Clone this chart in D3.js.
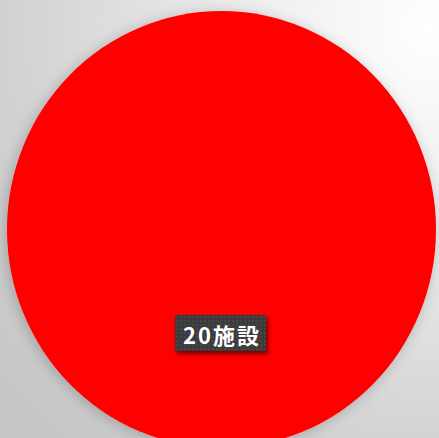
<!DOCTYPE html>
<html>
<head>
<meta charset="utf-8">
<script src="https://cdn.jsdelivr.net/npm/d3@7"></script>
<style>
  html, body { margin: 0; padding: 0; background: #fff; }
  svg { display: block; }
</style>
</head>
<body>
<svg id="chart" width="439" height="438"></svg>
<script>
// Pie data: a single category holding the whole total
const categories = ["施設"];
const values = [20];
const colors = ["#ff0000"];
const unit = "施設";

const W = 439, H = 438;
const cx = 221.5, cy = 229.5;
const rx = 214.5, ry = 218.5;

const svg = d3.select("#chart");
const defs = svg.append("defs");

// Soft grey backdrop, brightest at the upper right
const bg = defs.append("radialGradient")
  .attr("id", "bg").attr("gradientUnits", "userSpaceOnUse")
  .attr("cx", 430).attr("cy", 30).attr("r", 560);
bg.append("stop").attr("offset", "0%").attr("stop-color", "#ffffff");
bg.append("stop").attr("offset", "35%").attr("stop-color", "#ececec");
bg.append("stop").attr("offset", "75%").attr("stop-color", "#d2d2d2");
bg.append("stop").attr("offset", "100%").attr("stop-color", "#c6c6c6");

svg.append("rect").attr("width", W).attr("height", H).attr("fill", "url(#bg)");

// Halo shadow around the pie
const pieShadow = defs.append("filter").attr("id", "pieShadow")
  .attr("x", "-20%").attr("y", "-20%").attr("width", "140%").attr("height", "140%");
pieShadow.append("feDropShadow")
  .attr("dx", -2).attr("dy", 2).attr("stdDeviation", 7)
  .attr("flood-color", "#000").attr("flood-opacity", 0.22);

// Dotted texture for the label box
const pat = defs.append("pattern").attr("id", "dots")
  .attr("patternUnits", "userSpaceOnUse").attr("width", 4).attr("height", 4);
pat.append("rect").attr("width", 4).attr("height", 4).attr("fill", "#3b3b3b");
pat.append("circle").attr("cx", 1).attr("cy", 1).attr("r", 0.8).attr("fill", "#555");

const boxShadow = defs.append("filter").attr("id", "boxShadow")
  .attr("x", "-30%").attr("y", "-30%").attr("width", "160%").attr("height", "170%");
boxShadow.append("feDropShadow")
  .attr("dx", 2).attr("dy", 3).attr("stdDeviation", 2)
  .attr("flood-color", "#000").attr("flood-opacity", 0.55);

const data = categories.map((c, i) => ({ category: c, value: values[i], color: colors[i] }));

const pie = d3.pie().value(d => d.value).sort(null);
const arcs = pie(data);
const arc = d3.arc().innerRadius(0).outerRadius(rx);

// Slightly taller than wide, as drawn
const g = svg.append("g")
  .attr("transform", `translate(${cx},${cy}) scale(1,${ry / rx})`);

g.selectAll("path.slice")
  .data(arcs)
  .join("path")
  .attr("class", "slice")
  .attr("d", arc)
  .attr("fill", d => d.data.color)
  .attr("filter", "url(#pieShadow)");

// Data label in a dark box below the centre
const labelG = svg.append("g");
arcs.forEach(d => {
  labelG.append("rect")
    .attr("x", 175).attr("y", 315)
    .attr("width", 91).attr("height", 36)
    .attr("fill", "url(#dots)")
    .attr("filter", "url(#boxShadow)");
  labelG.append("text")
    .attr("x", 222).attr("y", 334)
    .attr("text-anchor", "middle")
    .attr("dominant-baseline", "central")
    .attr("font-family", "'Noto Sans CJK JP', 'Noto Sans', sans-serif")
    .attr("font-weight", "bold")
    .attr("font-size", 22)
    .attr("letter-spacing", 2)
    .attr("fill", "#ffffff")
    .text(d.data.value + unit);
});
</script>
</body>
</html>
